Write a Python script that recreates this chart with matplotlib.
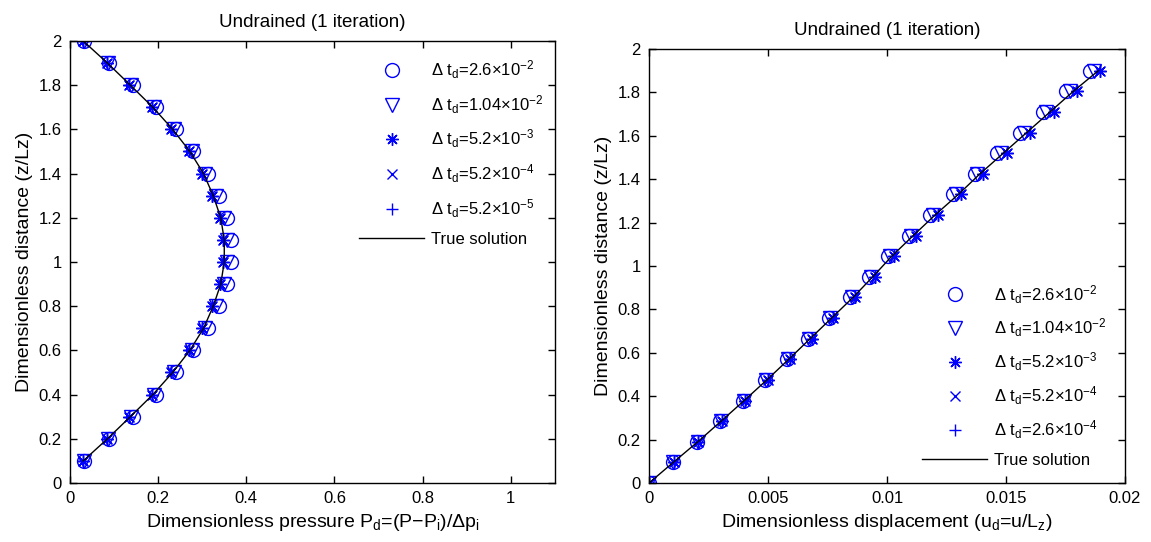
import numpy as np
import matplotlib
matplotlib.use('Agg')
from matplotlib import pyplot as plt

plt.rcParams['font.family'] = ['Liberation Sans', 'DejaVu Sans']
plt.rcParams['mathtext.fontset'] = 'custom'
plt.rcParams['mathtext.rm'] = 'Liberation Sans'
plt.rcParams['mathtext.it'] = 'Liberation Sans'
plt.rcParams['mathtext.default'] = 'regular'

BLUE = '#0000ff'

# ---------------- left panel: pressure profile ----------------
z_p = [0.1, 0.2, 0.3, 0.4, 0.5, 0.6, 0.7, 0.8, 0.9, 1.0,
       1.1, 1.2, 1.3, 1.4, 1.5, 1.6, 1.7, 1.8, 1.9, 2.0]
p_true = [0.030, 0.085, 0.137, 0.188, 0.233, 0.272, 0.303, 0.325, 0.342, 0.350,
          0.350, 0.342, 0.325, 0.303, 0.272, 0.233, 0.188, 0.137, 0.085, 0.030]
p_dt1 = [0.031, 0.088, 0.142, 0.194, 0.240, 0.279, 0.312, 0.338, 0.357, 0.366,
         0.366, 0.357, 0.338, 0.312, 0.279, 0.240, 0.194, 0.142, 0.088, 0.031]
p_dt2 = [0.031, 0.086, 0.139, 0.191, 0.236, 0.276, 0.307, 0.331, 0.349, 0.357,
         0.357, 0.349, 0.331, 0.307, 0.276, 0.236, 0.191, 0.139, 0.086, 0.031]
p_dt3 = [0.029, 0.084, 0.135, 0.186, 0.230, 0.269, 0.300, 0.323, 0.340, 0.348,
         0.348, 0.340, 0.323, 0.300, 0.269, 0.230, 0.186, 0.135, 0.084, 0.029]
p_dt4 = p_dt3
p_dt5 = p_dt3

# ---------------- right panel: displacement profile ----------------
z_u = [0.0, 0.095, 0.19, 0.285, 0.38, 0.475, 0.57, 0.665, 0.76, 0.855, 0.95,
       1.045, 1.14, 1.235, 1.33, 1.425, 1.52, 1.615, 1.71, 1.805, 1.9]
u_true = [0.0, 0.00102, 0.00205, 0.00303, 0.00400, 0.00495, 0.00587, 0.00677,
          0.00767, 0.00857, 0.00940, 0.01020, 0.01110, 0.01202, 0.01300, 0.01391,
          0.01489, 0.01587, 0.01685, 0.01783, 0.01888]
u_dt1 = [0.0, 0.00100, 0.00202, 0.00299, 0.00395, 0.00489, 0.00580, 0.00669,
         0.00757, 0.00845, 0.00926, 0.01004, 0.01092, 0.01182, 0.01279, 0.01368,
         0.01464, 0.01560, 0.01655, 0.01751, 0.01852]
u_dt2 = [0.0, 0.00101, 0.00204, 0.00301, 0.00398, 0.00492, 0.00584, 0.00673,
         0.00762, 0.00851, 0.00933, 0.01012, 0.01101, 0.01192, 0.01289, 0.01380,
         0.01477, 0.01574, 0.01670, 0.01767, 0.01870]
u_dt3 = [0.0, 0.00103, 0.00207, 0.00306, 0.00404, 0.00499, 0.00592, 0.00683,
         0.00774, 0.00864, 0.00948, 0.01029, 0.01120, 0.01213, 0.01312, 0.01404,
         0.01503, 0.01602, 0.01701, 0.01800, 0.01893]
u_dt4 = u_dt3
u_dt5 = u_dt3

labels_left = [r'$\Delta$ t$_d$=2.6$\times$10$^{-2}$',
               r'$\Delta$ t$_d$=1.04$\times$10$^{-2}$',
               r'$\Delta$ t$_d$=5.2$\times$10$^{-3}$',
               r'$\Delta$ t$_d$=5.2$\times$10$^{-4}$',
               r'$\Delta$ t$_d$=5.2$\times$10$^{-5}$',
               'True solution']
labels_right = [r'$\Delta$ t$_d$=2.6$\times$10$^{-2}$',
                r'$\Delta$ t$_d$=1.04$\times$10$^{-2}$',
                r'$\Delta$ t$_d$=5.2$\times$10$^{-3}$',
                r'$\Delta$ t$_d$=5.2$\times$10$^{-4}$',
                r'$\Delta$ t$_d$=2.6$\times$10$^{-4}$',
                'True solution']

markers = ['o', 'v', (8, 2, 0), 'x', '+']
msizes = [10, 10, 9, 7, 9]


def format_axes(ax):
    ax.tick_params(direction='in', top=True, right=True, length=5,
                   width=1, labelsize=12, pad=6)
    for sp in ax.spines.values():
        sp.set_linewidth(1.0)


def draw(ax, z, series, truth, labels):
    for vals, mk, ms, lab in zip(series, markers, msizes, labels[:5]):
        ax.plot(vals, z, ls='none', marker=mk, ms=ms, mfc='none', mec=BLUE,
                mew=1.0, label=lab)
    ax.plot(truth, z, color='black', lw=1.0, label=labels[5])


fig = plt.figure(figsize=(11.51, 5.42), dpi=100)
ax1 = fig.add_axes([0.0608, 0.1089, 0.4213, 0.8155])
ax2 = fig.add_axes([0.5639, 0.1089, 0.4135, 0.8007])

draw(ax1, z_p, [p_dt1, p_dt2, p_dt3, p_dt4, p_dt5], p_true, labels_left)
ax1.set_xlim(0, 1.1)
ax1.set_ylim(0, 2)
ax1.set_xticks([0, 0.2, 0.4, 0.6, 0.8, 1.0])
ax1.set_xticklabels(['0', '0.2', '0.4', '0.6', '0.8', '1'])
ax1.set_yticks(np.arange(0, 2.01, 0.2))
ax1.set_yticklabels(['0', '0.2', '0.4', '0.6', '0.8', '1', '1.2', '1.4', '1.6', '1.8', '2'])
ax1.set_title('Undrained (1 iteration)', fontsize=13.5, pad=10)
ax1.set_xlabel(r'Dimensionless pressure P$_d$=(P$-$P$_i$)/$\Delta$p$_i$', fontsize=14)
ax1.set_ylabel('Dimensionless distance (z/Lz)', fontsize=14)
format_axes(ax1)
ax1.legend(loc='upper right', frameon=False, fontsize=12, handlelength=3.9,
           handletextpad=0.4, labelspacing=0.72, borderaxespad=0,
           bbox_to_anchor=(0.99, 0.975))

draw(ax2, z_u, [u_dt1, u_dt2, u_dt3, u_dt4, u_dt5], u_true, labels_right)
ax2.set_xlim(0, 0.02)
ax2.set_ylim(0, 2)
ax2.set_xticks([0, 0.005, 0.01, 0.015, 0.02])
ax2.set_xticklabels(['0', '0.005', '0.01', '0.015', '0.02'])
ax2.set_yticks(np.arange(0, 2.01, 0.2))
ax2.set_yticklabels(['0', '0.2', '0.4', '0.6', '0.8', '1', '1.2', '1.4', '1.6', '1.8', '2'])
ax2.set_title('Undrained (1 iteration)', fontsize=13.5, pad=10)
ax2.set_xlabel(r'Dimensionless displacement (u$_d$=u/L$_z$)', fontsize=14)
ax2.set_ylabel('Dimensionless distance (z/Lz)', fontsize=14)
format_axes(ax2)
ax2.legend(loc='lower right', frameon=False, fontsize=12, handlelength=3.9,
           handletextpad=0.4, labelspacing=0.68, borderaxespad=0,
           bbox_to_anchor=(0.975, 0.02))

plt.savefig('out.png', dpi=100)
